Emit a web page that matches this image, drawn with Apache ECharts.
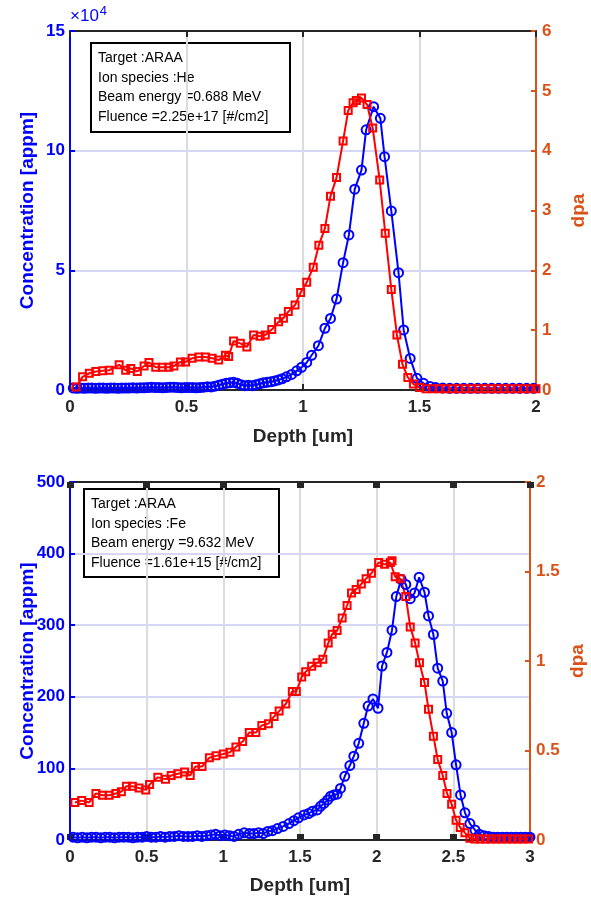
<!DOCTYPE html>
<html>
<head>
<meta charset="utf-8">
<script src="https://cdn.jsdelivr.net/npm/echarts@6/dist/echarts.min.js"></script>
<style>
  html, body { margin: 0; padding: 0; background: #fff; }
  #main { width: 591px; height: 899px; }
</style>
</head>
<body>
<div id="main"></div>
<script>
// He ion: concentration (x1e4 appm) vs depth (um)
var heConc = [
  [0.014,0.08],[0.030,0.07],[0.046,0.08],[0.062,0.07],[0.078,0.08],[0.094,0.08],[0.110,0.07],[0.126,0.08],
  [0.142,0.08],[0.158,0.07],[0.174,0.08],[0.190,0.08],[0.206,0.07],[0.222,0.08],[0.238,0.08],[0.254,0.08],
  [0.270,0.09],[0.286,0.08],[0.302,0.09],[0.318,0.09],[0.334,0.10],[0.350,0.11],[0.366,0.10],[0.382,0.10],
  [0.398,0.09],[0.414,0.10],[0.430,0.12],[0.446,0.11],[0.462,0.10],[0.478,0.09],[0.494,0.10],[0.510,0.10],
  [0.526,0.10],[0.542,0.09],[0.558,0.10],[0.574,0.12],[0.590,0.14],[0.606,0.13],[0.622,0.16],[0.638,0.20],
  [0.654,0.24],[0.670,0.28],[0.686,0.30],[0.702,0.32],[0.718,0.28],[0.734,0.22],[0.750,0.18],[0.766,0.20],
  [0.782,0.18],[0.798,0.22],[0.814,0.26],[0.830,0.30],[0.846,0.32],[0.862,0.34],[0.878,0.38],[0.894,0.42],
  [0.910,0.47],[0.929,0.55],[0.951,0.65],[0.973,0.80],[0.994,0.95],[1.016,1.15],[1.037,1.45],[1.066,1.85],
  [1.094,2.58],[1.118,2.99],[1.144,3.80],[1.172,5.32],[1.197,6.48],[1.222,8.39],[1.251,9.19],[1.271,10.87],
  [1.303,11.84],[1.332,11.35],[1.350,9.75],[1.379,7.48],[1.410,4.90],[1.432,2.51],[1.460,1.32],[1.489,0.49],
  [1.517,0.28],[1.545,0.15],[1.570,0.10],[1.600,0.08],[1.630,0.07],[1.660,0.07],[1.690,0.07],[1.720,0.07],
  [1.750,0.07],[1.780,0.07],[1.810,0.07],[1.840,0.07],[1.870,0.07],[1.900,0.07],[1.930,0.07],[1.960,0.07],
  [1.990,0.07]
];
// He ion: dpa vs depth (um)
var heDpa = [
  [0.026,0.05],[0.054,0.22],[0.083,0.28],[0.111,0.31],[0.140,0.32],[0.168,0.33],[0.211,0.42],[0.239,0.33],
  [0.261,0.36],[0.289,0.31],[0.318,0.40],[0.339,0.46],[0.368,0.38],[0.396,0.38],[0.424,0.38],[0.446,0.40],
  [0.474,0.47],[0.496,0.47],[0.524,0.53],[0.553,0.55],[0.581,0.55],[0.610,0.53],[0.638,0.50],[0.667,0.58],
  [0.681,0.56],[0.702,0.82],[0.731,0.78],[0.759,0.72],[0.788,0.92],[0.816,0.90],[0.838,0.92],[0.866,1.01],
  [0.895,1.14],[0.916,1.20],[0.937,1.31],[0.966,1.42],[0.990,1.63],[1.016,1.80],[1.044,2.05],[1.068,2.42],
  [1.094,2.70],[1.118,3.24],[1.144,3.55],[1.172,4.16],[1.194,4.67],[1.215,4.80],[1.229,4.84],[1.251,4.88],
  [1.275,4.77],[1.299,4.38],[1.329,3.51],[1.353,2.62],[1.379,1.68],[1.403,0.92],[1.427,0.43],[1.450,0.21],
  [1.474,0.10],[1.500,0.04],[1.528,0.02],[1.556,0.02],[1.584,0.02],[1.612,0.02],[1.640,0.02],[1.668,0.02],
  [1.696,0.02],[1.724,0.02],[1.752,0.02],[1.780,0.02],[1.808,0.02],[1.836,0.02],[1.864,0.02],[1.892,0.02],
  [1.920,0.02],[1.948,0.02],[1.976,0.02],[2.000,0.02]
];
// Fe ion: concentration (appm) vs depth (um)
var feConc = [
  [0.020,4],[0.050,3],[0.080,4],[0.110,3],[0.140,4],[0.170,4],[0.200,3],[0.230,4],[0.260,4],[0.290,3],
  [0.320,4],[0.350,4],[0.380,4],[0.410,3],[0.440,4],[0.470,4],[0.500,5],[0.530,4],[0.560,4],[0.590,5],
  [0.620,4],[0.650,5],[0.680,5],[0.710,6],[0.740,5],[0.770,5],[0.800,5],[0.830,6],[0.860,5],[0.890,6],
  [0.920,7],[0.950,8],[0.980,6],[1.010,7],[1.040,6],[1.070,5],[1.100,8],[1.136,10],[1.170,9],[1.200,9],
  [1.230,10],[1.260,9],[1.290,12],[1.320,13],[1.353,16],[1.390,19],[1.428,23],[1.460,27],[1.490,31],[1.526,35],
  [1.556,37],[1.580,40],[1.612,42],[1.634,47],[1.656,51],[1.680,56],[1.699,61],[1.720,63],[1.742,64],[1.764,72],
  [1.792,89],[1.825,104],[1.851,117],[1.883,135],[1.916,163],[1.944,187],[1.976,197],[2.009,184],[2.035,243],[2.067,262],
  [2.100,293],[2.128,340],[2.160,364],[2.190,357],[2.219,337],[2.247,345],[2.277,367],[2.312,346],[2.338,313],[2.370,287],
  [2.398,240],[2.431,222],[2.457,177],[2.489,150],[2.518,105],[2.547,63],[2.576,38],[2.608,23],[2.641,14],[2.670,8],
  [2.700,6],[2.730,5],[2.760,4],[2.790,4],[2.820,4],[2.850,4],[2.880,4],[2.910,4],[2.940,4],[2.970,4],[3.000,4]
];
// Fe ion: dpa vs depth (um)
var feDpa = [
  [0.032,0.21],[0.076,0.22],[0.125,0.21],[0.169,0.26],[0.212,0.25],[0.255,0.25],[0.299,0.26],[0.335,0.27],
  [0.368,0.30],[0.407,0.30],[0.450,0.29],[0.494,0.28],[0.519,0.31],[0.573,0.35],[0.623,0.34],[0.660,0.36],
  [0.703,0.37],[0.747,0.38],[0.784,0.36],[0.818,0.41],[0.861,0.41],[0.909,0.46],[0.952,0.47],[1.000,0.48],
  [1.043,0.49],[1.082,0.52],[1.126,0.55],[1.169,0.60],[1.212,0.60],[1.251,0.64],[1.294,0.65],[1.331,0.69],
  [1.364,0.72],[1.407,0.76],[1.450,0.83],[1.476,0.83],[1.511,0.91],[1.537,0.94],[1.576,0.97],[1.612,0.99],
  [1.649,1.01],[1.684,1.10],[1.710,1.15],[1.742,1.17],[1.775,1.24],[1.807,1.31],[1.836,1.38],[1.866,1.40],
  [1.900,1.43],[1.931,1.46],[1.966,1.49],[2.013,1.55],[2.052,1.54],[2.089,1.55],[2.100,1.56],[2.121,1.47],
  [2.154,1.46],[2.190,1.36],[2.219,1.19],[2.251,1.10],[2.279,0.99],[2.312,0.88],[2.338,0.73],[2.370,0.58],
  [2.398,0.45],[2.431,0.36],[2.459,0.26],[2.489,0.20],[2.518,0.11],[2.545,0.07],[2.576,0.04],[2.608,0.01],
  [2.640,0.005],[2.675,0.005],[2.710,0.005],[2.745,0.005],[2.780,0.005],[2.815,0.005],[2.850,0.005],[2.885,0.005],
  [2.920,0.005],[2.955,0.005],[2.990,0.005]
];

var heInfo = ['Target :ARAA', 'Ion species :He', 'Beam energy =0.688 MeV', 'Fluence =2.25e+17 [#/cm2]'];
var feInfo = ['Target :ARAA', 'Ion species :Fe', 'Beam energy =9.632 MeV', 'Fluence =1.61e+15 [#/cm2]'];

var BLUE = '#0000ff', RED = '#ff0000', ORANGE = '#d95319';
var FONT = 'Liberation Sans';

var myChart = echarts.init(document.getElementById('main'), null, {renderer: 'canvas'});

function xBottom(gridIndex, max, tickW, gap) {
    return {
        type: 'value', gridIndex: gridIndex, min: 0, max: max, interval: 0.5,
        name: 'Depth [um]', nameLocation: 'middle', nameGap: gap, nameMoveOverlap: false,
        nameTextStyle: {color: '#262626', fontSize: 19, fontWeight: 'bold', fontFamily: FONT},
        axisLine: {lineStyle: {color: '#262626', width: 2}},
        axisTick: {inside: true, length: 6, lineStyle: {color: '#262626', width: tickW}},
        axisLabel: {color: '#262626', fontSize: 17, fontWeight: 'bold', fontFamily: FONT, margin: 9},
        splitLine: {show: true, lineStyle: {color: '#dcdcdc', width: 2}}
    };
}
function xTop(gridIndex, max, tickW) {
    return {
        type: 'value', gridIndex: gridIndex, position: 'top', min: 0, max: max, interval: 0.5,
        axisLine: {onZero: false, lineStyle: {color: '#262626', width: 2}},
        axisTick: {inside: true, length: 6, lineStyle: {color: '#262626', width: tickW}},
        axisLabel: {show: false}, splitLine: {show: false}
    };
}
function yLeft(gridIndex, max, interval) {
    return {
        type: 'value', gridIndex: gridIndex, position: 'left', min: 0, max: max, interval: interval,
        name: 'Concentration [appm]', nameLocation: 'middle', nameGap: 33, nameMoveOverlap: false,
        nameTextStyle: {color: BLUE, fontSize: 19, fontWeight: 'bold', fontFamily: FONT},
        axisLine: {onZero: false, lineStyle: {color: BLUE, width: 2}},
        axisTick: {inside: true, length: 5, lineStyle: {color: BLUE, width: 2}},
        axisLabel: {color: BLUE, fontSize: 17, fontWeight: 'bold', fontFamily: FONT, margin: 5},
        splitLine: {show: true, lineStyle: {color: '#d6d6f6', width: 2}}
    };
}
function yRight(gridIndex, max, interval, gap, fmt) {
    return {
        type: 'value', gridIndex: gridIndex, position: 'right', min: 0, max: max, interval: interval,
        name: 'dpa', nameLocation: 'middle', nameGap: gap, nameMoveOverlap: false,
        nameTextStyle: {color: ORANGE, fontSize: 19, fontWeight: 'bold', fontFamily: FONT},
        axisLine: {onZero: false, lineStyle: {color: ORANGE, width: 2}},
        axisTick: {inside: true, length: 5, lineStyle: {color: ORANGE, width: 2}},
        axisLabel: {color: ORANGE, fontSize: 17, fontWeight: 'bold', fontFamily: FONT, margin: 6, formatter: fmt},
        splitLine: {show: false}
    };
}
function lineSeries(data, xi, yi, color, symbol, size) {
    return {
        type: 'line', data: data, xAxisIndex: xi, yAxisIndex: yi,
        symbol: symbol, symbolSize: size, showSymbol: true, animation: false,
        lineStyle: {color: color, width: 2},
        itemStyle: {color: 'rgba(0,0,0,0)', borderColor: color, borderWidth: 2},
        emphasis: {disabled: true}
    };
}
function infoBox(x, y, w, h, lines) {
    var kids = [{
        type: 'rect', shape: {x: 0, y: 0, width: w, height: h},
        style: {fill: '#fff', stroke: '#000', lineWidth: 2}
    }];
    lines.forEach(function (t, i) {
        kids.push({
            type: 'text', x: 7, y: 8 + i * 19.7,
            style: {text: t, fill: '#000', font: '14px "' + FONT + '"'}
        });
    });
    return {type: 'group', x: x, y: y, z: 100, children: kids};
}

var option = {
    backgroundColor: '#fff',
    grid: [
        {left: 70, top: 31, width: 466, height: 359, outerBoundsMode: 'none', containLabel: false},
        {left: 70, top: 482, width: 460, height: 358, outerBoundsMode: 'none', containLabel: false}
    ],
    xAxis: [xBottom(0, 2, 2, 37), xTop(0, 2, 2), xBottom(1, 3, 7, 36), xTop(1, 3, 7)],
    yAxis: [
        yLeft(0, 15, 5), yRight(0, 6, 1, 33),
        yLeft(1, 500, 100), yRight(1, 2, 0.5, 38, function (v) { return String(v); })
    ],
    series: [
        lineSeries(heConc, 0, 0, BLUE, 'circle', 9),
        lineSeries(heDpa, 0, 1, RED, 'rect', 7),
        lineSeries(feConc, 2, 2, BLUE, 'circle', 9),
        lineSeries(feDpa, 2, 3, RED, 'rect', 7)
    ],
    graphic: [
        infoBox(91, 43, 199, 89, heInfo),
        infoBox(84, 489, 195, 88, feInfo),
        {
            type: 'text', left: 70, top: 5, z: 100,
            style: {
                text: '{a|\u00d710}{b|4}',
                rich: {
                    a: {fill: BLUE, fontSize: 17, fontFamily: FONT},
                    b: {fill: BLUE, fontSize: 13, fontFamily: FONT, verticalAlign: 'top', padding: [0, 0, 9, 1]}
                }
            }
        }
    ]
};

myChart.setOption(option);
</script>
</body>
</html>
